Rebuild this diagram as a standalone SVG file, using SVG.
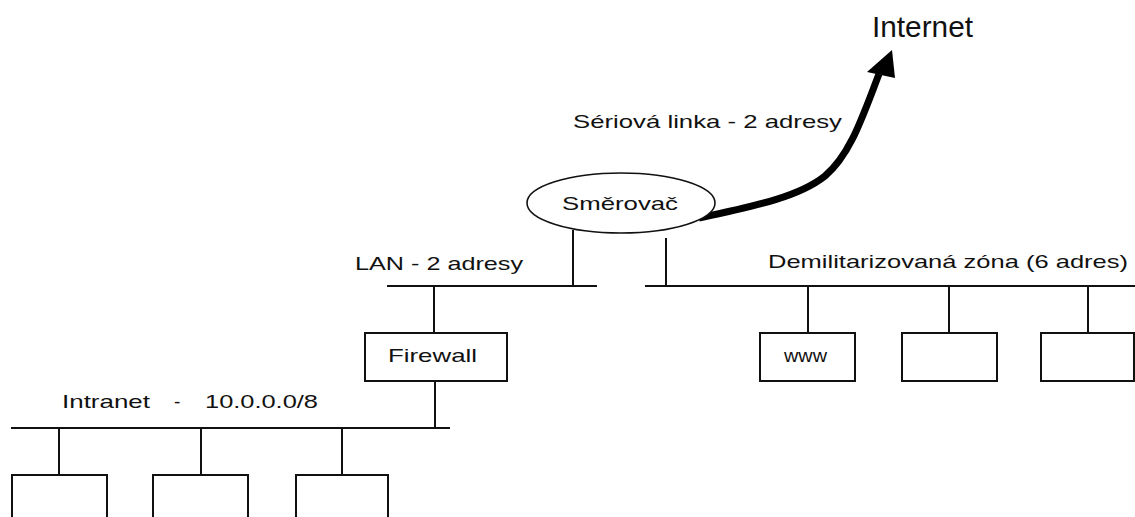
<svg xmlns="http://www.w3.org/2000/svg" width="1135" height="517" viewBox="0 0 1135 517">
<style>
.t{font-family:"Liberation Sans",Arial,sans-serif;font-size:19px;fill:#111}
.big{font-family:"Liberation Sans",Arial,sans-serif;font-size:30px;fill:#111}
.ln{stroke:#111;stroke-width:2;fill:none}
.box{stroke:#111;stroke-width:2;fill:#fff}
</style>
<rect width="1135" height="517" fill="#fff"/>
<g id="connectors">
<!-- LAN bus -->
<line class="ln" x1="387" y1="286" x2="597" y2="286"/>
<line class="ln" x1="573" y1="230" x2="573" y2="286"/>
<line class="ln" x1="434" y1="286" x2="434" y2="333"/>
<!-- DMZ bus -->
<line class="ln" x1="645" y1="286" x2="1135" y2="286"/>
<line class="ln" x1="666" y1="238" x2="666" y2="286"/>
<line class="ln" x1="808" y1="286" x2="808" y2="333"/>
<line class="ln" x1="949" y1="286" x2="949" y2="333"/>
<line class="ln" x1="1088" y1="286" x2="1088" y2="333"/>
<!-- Intranet bus -->
<line class="ln" x1="11" y1="428" x2="450" y2="428"/>
<line class="ln" x1="435" y1="381" x2="435" y2="428"/>
<line class="ln" x1="59" y1="428" x2="59" y2="475"/>
<line class="ln" x1="201" y1="428" x2="201" y2="475"/>
<line class="ln" x1="342" y1="428" x2="342" y2="475"/>
<!-- serial link to Internet -->
<path d="M699,218 C760,205 800,196 825,176 C850,155 862,118 879,74" stroke="#000" stroke-width="7" fill="none"/>
<polygon points="892,50 867,72 895,78" fill="#000"/>
</g>
<g id="internet"><text class="big" x="872" y="37" textLength="101" lengthAdjust="spacingAndGlyphs">Internet</text></g>
<g id="serial-label"><text class="t" x="573" y="128" textLength="269" lengthAdjust="spacingAndGlyphs">Sériová linka - 2 adresy</text></g>
<g id="router">
<ellipse cx="621" cy="203" rx="94" ry="30" fill="#fff" stroke="#111" stroke-width="1.6"/>
<text class="t" x="562" y="210" textLength="116" lengthAdjust="spacingAndGlyphs">Směrovač</text>
</g>
<g id="lan-label"><text class="t" x="355" y="270" textLength="168" lengthAdjust="spacingAndGlyphs">LAN - 2 adresy</text></g>
<g id="dmz-label"><text class="t" x="768" y="268" textLength="360" lengthAdjust="spacingAndGlyphs">Demilitarizovaná zóna (6 adres)</text></g>
<g id="firewall">
<rect class="box" x="365" y="333" width="142" height="48"/>
<text class="t" x="388" y="362" textLength="89" lengthAdjust="spacingAndGlyphs">Firewall</text>
</g>
<g id="www">
<rect class="box" x="760" y="333" width="95" height="48"/>
<text class="t" x="784" y="362" textLength="43" lengthAdjust="spacingAndGlyphs">www</text>
</g>
<g id="dmz-server-2"><rect class="box" x="902" y="333" width="95" height="48"/></g>
<g id="dmz-server-3"><rect class="box" x="1041" y="333" width="93" height="48"/></g>
<g id="intranet-label">
<text class="t" x="62" y="408" textLength="88" lengthAdjust="spacingAndGlyphs">Intranet</text>
<text class="t" x="174" y="408">-</text>
<text class="t" x="205" y="408" textLength="113" lengthAdjust="spacingAndGlyphs">10.0.0.0/8</text>
</g>
<g id="pc-1"><rect class="box" x="12" y="475" width="95" height="60"/></g>
<g id="pc-2"><rect class="box" x="153" y="475" width="95" height="60"/></g>
<g id="pc-3"><rect class="box" x="296" y="475" width="92" height="60"/></g>
</svg>
